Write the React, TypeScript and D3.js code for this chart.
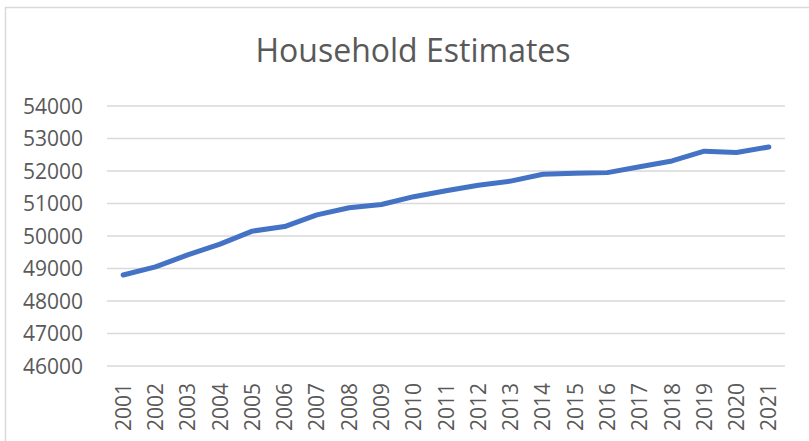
import React from 'react';
import * as d3 from 'd3';

const years = [
  '2001', '2002', '2003', '2004', '2005', '2006', '2007', '2008', '2009', '2010', '2011',
  '2012', '2013', '2014', '2015', '2016', '2017', '2018', '2019', '2020', '2021',
];
const households = [
  48800, 49050, 49420, 49750, 50150, 50290, 50650, 50870, 50970, 51210, 51390,
  51560, 51690, 51900, 51930, 51950, 52130, 52310, 52610, 52570, 52740,
];
const yTicks = [46000, 47000, 48000, 49000, 50000, 51000, 52000, 53000, 54000];

const W = 809;
const H = 441;
const plot = { left: 107, right: 785, top: 106, bottom: 366 };
const font = "'Open Sans', 'Liberation Sans', sans-serif";
const textColor = '#595959';
const gridColor = '#d9d9d9';

const App = () => {
  const x = d3.scaleBand<string>()
    .domain(years)
    .range([plot.left, plot.right]);
  const y = d3.scaleLinear()
    .domain([46000, 54000])
    .range([plot.bottom, plot.top]);

  const line = d3.line<number>()
    .x((_, i) => (x(years[i]) as number) + x.bandwidth() / 2)
    .y(d => y(d));

  return (
    <svg
      width={W}
      height={H}
      style={{ position: 'absolute', left: 0, top: 0, background: '#fff' }}
    >
      <rect x={5.5} y={7.5} width={830} height={470} fill="#fff" stroke={gridColor} strokeWidth={1.5} />
      <text
        x={413}
        y={62}
        textAnchor="middle"
        fontFamily={font}
        fontSize={32}
        fill={textColor}
      >
        Household Estimates
      </text>
      <g className="grid">
        {yTicks.map(t => (
          <line
            key={t}
            x1={plot.left}
            x2={plot.right}
            y1={y(t)}
            y2={y(t)}
            stroke={gridColor}
            strokeWidth={1.5}
          />
        ))}
      </g>
      <g className="yAxis">
        {yTicks.map(t => (
          <text
            key={t}
            x={83}
            y={y(t)}
            dy="0.36em"
            textAnchor="end"
            fontFamily={font}
            fontSize={21}
            fill={textColor}
          >
            {t}
          </text>
        ))}
      </g>
      <g className="xAxis">
        {years.map(yr => {
          const cx = (x(yr) as number) + x.bandwidth() / 2;
          return (
            <text
              key={yr}
              transform={`translate(${cx},${plot.bottom + 17}) rotate(-90)`}
              dy="0.36em"
              textAnchor="end"
              fontFamily={font}
              fontSize={21}
              fill={textColor}
            >
              {yr}
            </text>
          );
        })}
      </g>
      <path
        d={line(households) || ''}
        fill="none"
        stroke="#4472c4"
        strokeWidth={5}
        strokeLinecap="round"
        strokeLinejoin="round"
      />
    </svg>
  );
};

export default App;
